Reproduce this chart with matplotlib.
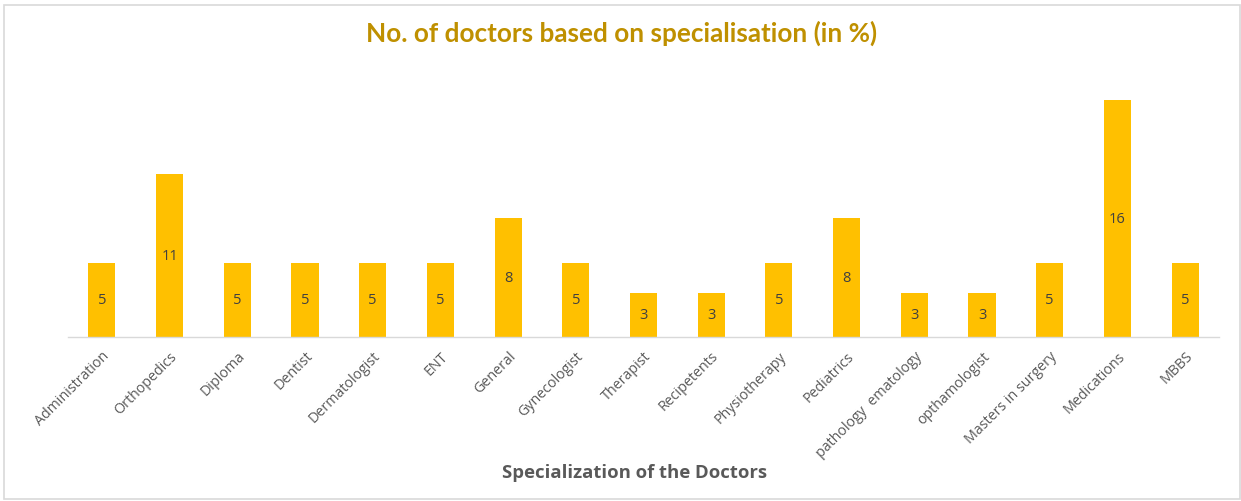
import matplotlib
matplotlib.use("Agg")
import matplotlib.pyplot as plt
from matplotlib.patches import Rectangle

# Share of doctors per specialisation (in %)
specialisations = [
    "Administration", "Orthopedics", "Diploma", "Dentist", "Dermatologist",
    "ENT", "General", "Gynecologist", "Therapist", "Recipetents",
    "Physiotherapy", "Pediatrics", "pathology  ematology", "opthamologist",
    "Masters in surgery", "Medications", "MBBS",
]
share_pct = [5, 11, 5, 5, 5, 5, 8, 5, 3, 3, 5, 8, 3, 3, 5, 16, 5]

title_text = "No. of doctors based on specialisation (in %)"
xlabel_text = "Specialization of the Doctors"

W, H = 1241, 502
fig = plt.figure(figsize=(W / 100, H / 100), dpi=100)
fig.patch.set_facecolor("white")

# light frame around the whole chart
fig.patches.append(Rectangle((4 / W, 2 / H), (1236 / W), (494 / H),
                             transform=fig.transFigure, fill=False,
                             edgecolor="#D9D9D9", linewidth=1.2))

ax = fig.add_axes([68 / W, (H - 338) / H, (1219 - 68) / W, (338 - 71) / H])
x = list(range(len(specialisations)))
bars = ax.bar(x, share_pct, width=0.4, color="#FFC000", zorder=2)

for rect, v in zip(bars, share_pct):
    ax.text(rect.get_x() + rect.get_width() / 2, v / 2, f"{v}",
            ha="center", va="center", fontsize=10.5, color="#404040",
            family="Open Sans")

ax.set_xlim(-0.5, len(specialisations) - 0.5)
ax.set_ylim(0, 18)
ax.set_yticks([])
for s in ("top", "right", "left"):
    ax.spines[s].set_visible(False)
ax.spines["bottom"].set_color("#D9D9D9")
ax.spines["bottom"].set_linewidth(1.0)

ax.set_xticks(x)
ax.set_xticklabels(specialisations, rotation=45, ha="right",
                   rotation_mode="anchor", fontsize=10.3, color="#595959",
                   family="Open Sans")
ax.tick_params(axis="x", length=0, pad=8)

fig.text(622 / W, 1 - 33 / H, title_text, ha="center", va="center",
         fontsize=18.8, fontweight="bold", color="#BF9000", family="Lato")
fig.text(635 / W, 1 - 473 / H, xlabel_text, ha="center", va="center",
         fontsize=13.3, fontweight="bold", color="#595959", family="Open Sans")

fig.savefig("out.png", dpi=100, facecolor="white")
